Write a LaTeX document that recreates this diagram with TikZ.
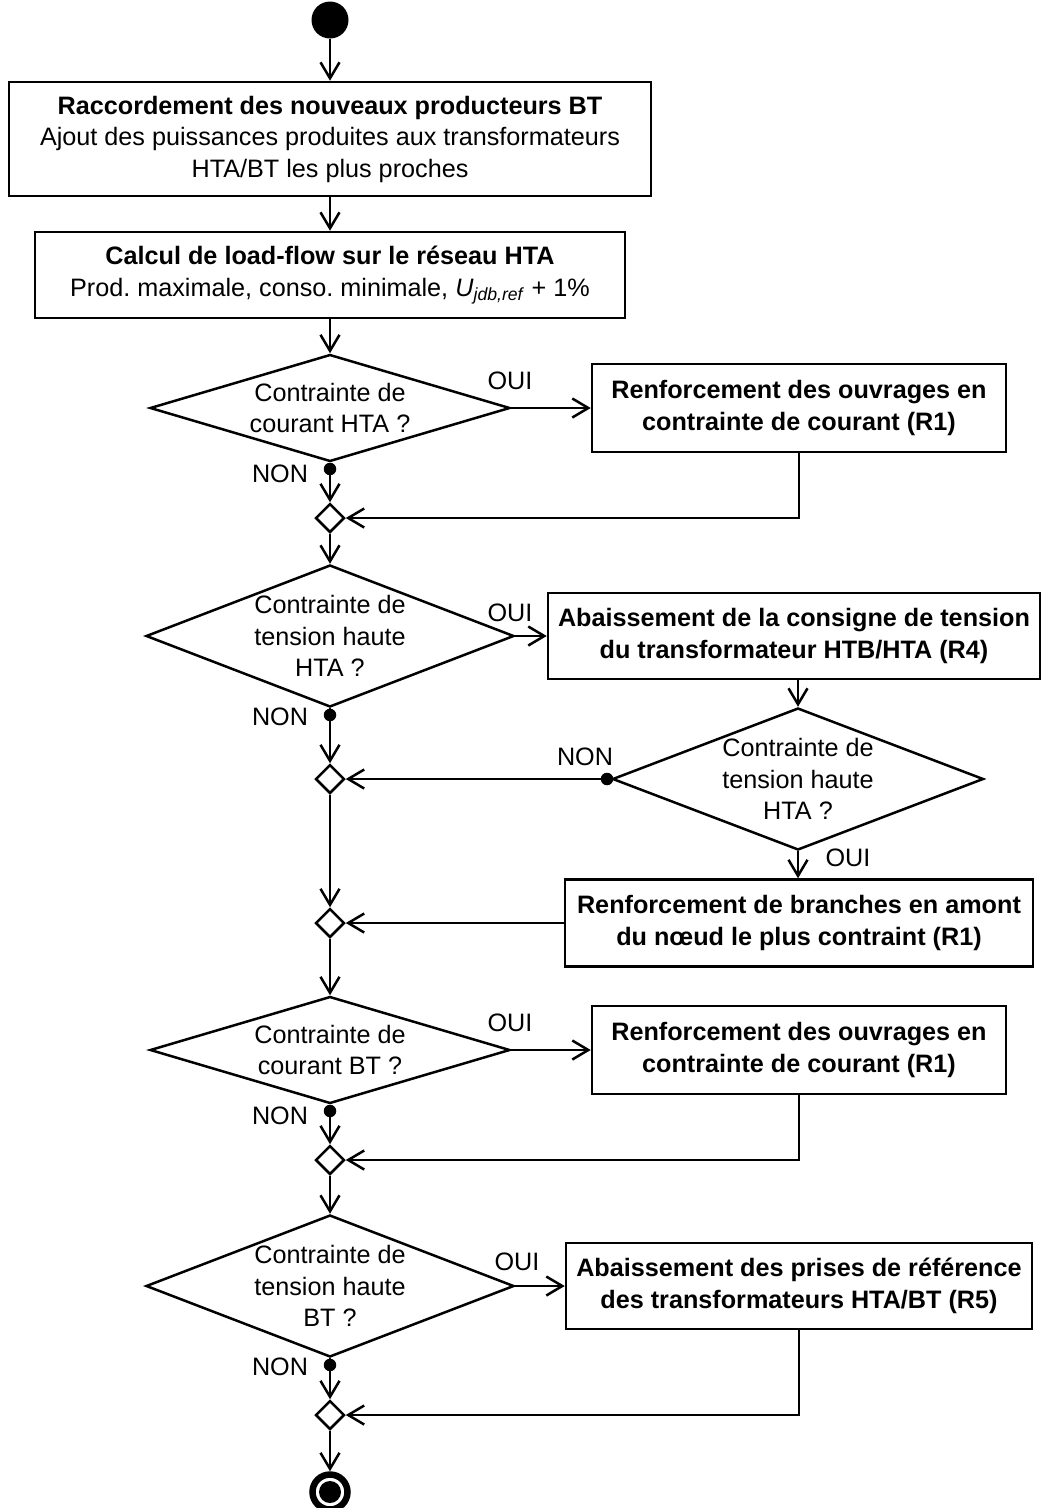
\documentclass[tikz,border=0pt]{standalone}
\usepackage{fontspec}
\setmainfont{Liberation Sans}
\usetikzlibrary{arrows.meta,shapes.geometric}
\frenchspacing
\begin{document}
\begin{tikzpicture}[x=1pt,y=-1pt,
  every node/.style={font=\fontsize{25.2}{31.5}\selectfont\frenchspacing, inner sep=0pt},
  ln/.style={line width=2.5pt},
  flow/.style={ln, -{Straight Barb[length=16pt,width=19pt]}},
  box/.style={draw, ln, rectangle, align=center},
  boxb/.style={box, font=\fontsize{25.2}{31.5}\selectfont\bfseries},
  dec/.style={draw, ln, diamond},
  mrg/.style={draw, ln, diamond, minimum width=29pt, minimum height=29pt},
  dtext/.style={align=center},
  dotn/.style={circle, fill, minimum size=12.5pt},
  startn/.style={circle, fill, minimum size=37pt},
  endring/.style={circle, draw, line width=6.5pt, minimum size=35pt},
]
\useasboundingbox (0,0) rectangle (1041,1508);

% start / end
\node[startn] (start) at (330,20) {};
\node[endring] (end) at (330,1492) {};
\fill (end.center) circle[radius=11pt];

% boxes
\node[box, minimum width=642pt, minimum height=114pt] (b1) at (330,139)
  {\textbf{Raccordement des nouveaux producteurs BT}\\Ajout des puissances produites aux transformateurs\\HTA/BT les plus proches};
\node[box, minimum width=590pt, minimum height=86pt] (b2) at (330,275)
  {\textbf{Calcul de load-flow sur le réseau HTA}\\Prod. maximale, conso. minimale, \textit{U}\textsubscript{\textit{jdb,ref}} + 1\%};
\node[boxb, minimum width=414pt, minimum height=88pt] (r1a) at (799,408)
  {Renforcement des ouvrages en\\contrainte de courant (R1)};
\node[boxb, minimum width=492pt, minimum height=86pt] (r4) at (794,636)
  {Abaissement de la consigne de tension\\du transformateur HTB/HTA (R4)};
\node[boxb, minimum width=468pt, minimum height=87pt] (r1b) at (799,923)
  {Renforcement de branches en amont\\du nœud le plus contraint (R1)};
\node[boxb, minimum width=414pt, minimum height=88pt] (r1c) at (799,1050)
  {Renforcement des ouvrages en\\contrainte de courant (R1)};
\node[boxb, minimum width=466pt, minimum height=86pt] (r5) at (799,1286)
  {Abaissement des prises de référence\\des transformateurs HTA/BT (R5)};

% decisions
\node[dec, minimum width=360pt, minimum height=107pt] (d1) at (330,408) {};
\node[dtext] (t1) at (d1) {Contrainte de\\courant HTA ?};
\node[dec, minimum width=368pt, minimum height=142pt] (d2) at (330,636) {};
\node[dtext] (t2) at (d2) {Contrainte de\\tension haute\\HTA ?};
\node[dec, minimum width=371pt, minimum height=142pt] (d3) at (798,779) {};
\node[dtext] (t3) at (d3) {Contrainte de\\tension haute\\HTA ?};
\node[dec, minimum width=360pt, minimum height=107pt] (d4) at (330,1050) {};
\node[dtext] (t4) at (d4) {Contrainte de\\courant BT ?};
\node[dec, minimum width=368pt, minimum height=142pt] (d5) at (330,1286) {};
\node[dtext] (t5) at (d5) {Contrainte de\\tension haute\\BT ?};

% merges
\node[mrg] (m1) at (330,518) {};
\node[mrg] (m2) at (330,779) {};
\node[mrg] (m3) at (330,923) {};
\node[mrg] (m4) at (330,1160) {};
\node[mrg] (m5) at (330,1415) {};

% NON dots
\node[dotn] (p1) at (330,469) {};
\node[dotn] (p2) at (330,715) {};
\node[dotn] (p3) at (607,779) {};
\node[dotn] (p4) at (330,1111) {};
\node[dotn] (p5) at (330,1365) {};

% labels
\node (o1) at (510,381) {OUI};
\node (o2) at (510,613) {OUI};
\node (o3) at (848,858) {OUI};
\node (o4) at (510,1023) {OUI};
\node (o5) at (517,1262) {OUI};
\node (n1) at (280,474) {NON};
\node (n2) at (280,717) {NON};
\node (n3) at (585,757) {NON};
\node (n4) at (280,1116) {NON};
\node (n5) at (280,1367) {NON};

% connectors
\draw[flow] (start.south) -- (b1.north);
\draw[flow] (b1.south) -- (b2.north);
\draw[flow] (b2.south) -- (d1.north);
\draw[flow] (d1.east) -- (r1a.west);
\draw[ln] (d1.south) -- (p1.center);
\draw[flow] (p1.center) -- (m1.north);
\draw[flow] (r1a.south) |- (m1.east);
\draw[flow] (m1.south) -- (d2.north);
\draw[flow] (d2.east) -- (r4.west);
\draw[ln] (d2.south) -- (p2.center);
\draw[flow] (p2.center) -- (m2.north);
\draw[flow] (r4.south -| d3.north) -- (d3.north);
\draw[ln] (d3.west) -- (p3.center);
\draw[flow] (p3.center) -- (m2.east);
\draw[flow] (d3.south) -- (d3.south |- r1b.north);
\draw[flow] (m2.south) -- (m3.north);
\draw[flow] (r1b.west) -- (m3.east);
\draw[flow] (m3.south) -- (d4.north);
\draw[flow] (d4.east) -- (r1c.west);
\draw[ln] (d4.south) -- (p4.center);
\draw[flow] (p4.center) -- (m4.north);
\draw[flow] (r1c.south) |- (m4.east);
\draw[flow] (m4.south) -- (d5.north);
\draw[flow] (d5.east) -- (r5.west);
\draw[ln] (d5.south) -- (p5.center);
\draw[flow] (p5.center) -- (m5.north);
\draw[flow] (r5.south) |- (m5.east);
\draw[flow] (m5.south) -- (end.north);
\end{tikzpicture}
\end{document}
